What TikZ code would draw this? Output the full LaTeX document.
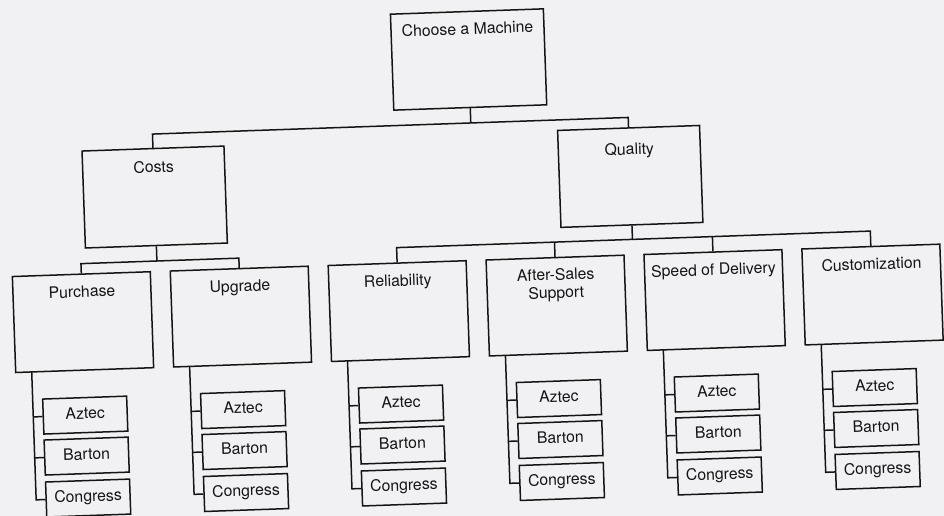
\documentclass[tikz,border=0pt]{standalone}
\usepackage{fontspec}
\setmainfont{TeX Gyre Heros}
\definecolor{bg}{RGB}{241,241,244}
\definecolor{ink}{RGB}{20,20,20}
\begin{document}
\begin{tikzpicture}[x=1pt,y=-1pt,line width=1.5pt,
  every node/.style={font=\fontsize{15.8}{18}\selectfont, text=ink},
  topbox/.style={draw=ink, rectangle, inner sep=0pt, minimum width=153pt, minimum height=96pt},
  mainbox/.style={draw=ink, rectangle, inner sep=0pt, minimum width=142pt, minimum height=97pt},
  subbox/.style={draw=ink, rectangle, inner sep=0pt, minimum width=138pt, minimum height=96pt},
  leaf/.style={draw=ink, rectangle, inner sep=0pt, minimum width=84pt, minimum height=35pt, text height=11.2pt, text depth=4pt},
  conn/.style={draw=ink, line width=1.5pt},
  lbl/.style={anchor=base, inner sep=0pt}]
\fill[bg] (0,0) rectangle (944,516);
\useasboundingbox (0,0) rectangle (944,516);
\begin{scope}[rotate around={2:(472,258)}, transform shape]
  % top level
  \node[topbox] (choose) at (475.5,59.5) {};
  \node[lbl] (lchoose) at (475.5,34.5) {Choose a Machine};
  \node[mainbox] (costs) at (157,186) {};
  \node[lbl] (lcosts) at (157,161.6) {Costs};
  \node[mainbox] (quality) at (633,182) {};
  \node[lbl] (lquality) at (633,160.2) {Quality};
  % main bus
  \coordinate (m0) at (475.5,123);
  \coordinate (mc) at (157,123);
  \coordinate (mq) at (633,123);
  \draw[conn] (choose.south) -- (m0);
  \draw[conn] (costs.north) -- (mc) -- (mq) -- (quality.north);
  % second level boxes with leaves
  \foreach \n/\x in {pur/81, upg/239, rel/397, aft/555, spd/713, cus/871} {
    \node[subbox] (\n) at (\x,308.5) {};
    \node[leaf] (\n-a) at (\x-1,401.5) {Aztec};
    \node[leaf] (\n-b) at (\x-1,442.5) {Barton};
    \node[leaf] (\n-c) at (\x-1,484.5) {Congress};
    \coordinate (\n-s0) at (\x-53,356.5);
    \coordinate (\n-s1) at (\x-53,401.5);
    \coordinate (\n-s2) at (\x-53,442.5);
    \coordinate (\n-s3) at (\x-53,484.5);
    \draw[conn] (\n-s0) -- (\n-s3) -- (\n-c.west);
    \draw[conn] (\n-s1) -- (\n-a.west);
    \draw[conn] (\n-s2) -- (\n-b.west);
  }
  \node[lbl] (lpur) at (81,283.6) {Purchase};
  \node[lbl] (lupg) at (239,283.6) {Upgrade};
  \node[lbl] (lrel) at (397,283.6) {Reliability};
  \node[lbl] (laft1) at (555,283) {After-Sales};
  \node[lbl] (laft2) at (555,301) {Support};
  \node[lbl] (lspd) at (713,283.6) {Speed of Delivery};
  \node[lbl] (lcus) at (871,283.6) {Customization};
  % costs bus
  \coordinate (cb0) at (157,250);
  \coordinate (cb1) at (81,250);
  \coordinate (cb2) at (239,250);
  \draw[conn] (costs.south) -- (cb0);
  \draw[conn] (pur.north) -- (cb1) -- (cb2) -- (upg.north);
  % quality bus
  \coordinate (qb0) at (633,245);
  \coordinate (qb1) at (397,245);
  \coordinate (qb2) at (555,245);
  \coordinate (qb3) at (713,245);
  \coordinate (qb4) at (871,245);
  \draw[conn] (quality.south) -- (qb0);
  \draw[conn] (rel.north) -- (qb1) -- (qb4) -- (cus.north);
  \draw[conn] (aft.north) -- (qb2);
  \draw[conn] (spd.north) -- (qb3);
\end{scope}
\end{tikzpicture}
\end{document}
